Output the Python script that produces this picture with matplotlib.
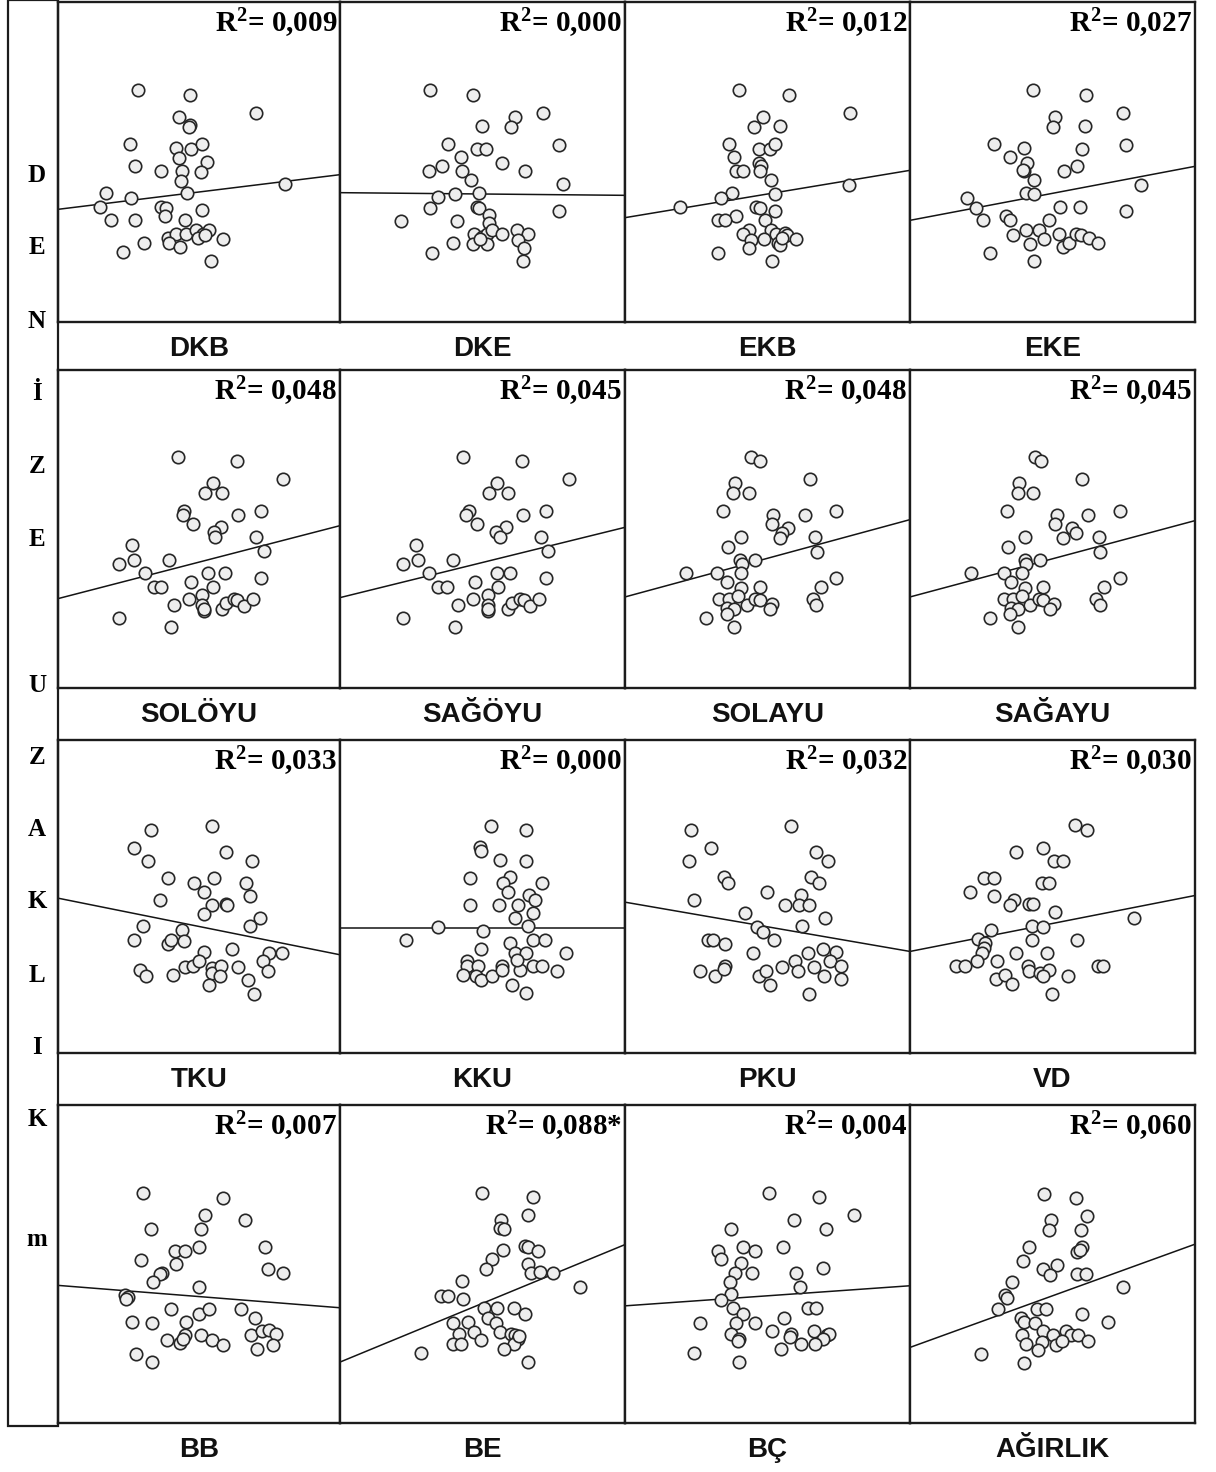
import matplotlib
matplotlib.use("Agg")
import matplotlib.pyplot as plt
from matplotlib.patches import Rectangle

plt.rcParams['mathtext.fontset'] = 'custom'
plt.rcParams['mathtext.rm'] = 'Liberation Serif:bold'
plt.rcParams['mathtext.it'] = 'Liberation Serif:bold'
plt.rcParams['mathtext.bf'] = 'Liberation Serif:bold'

# ---------------------------------------------------------------- data
# Each panel: predictor (x) against DENİZE UZAKLIK (y), in scaled units.
LABELS = ["DKB", "DKE", "EKB", "EKE",
          "SOLÖYU", "SAĞÖYU", "SOLAYU", "SAĞAYU",
          "TKU", "KKU", "PKU", "VD",
          "BB", "BE", "BÇ", "AĞIRLIK"]

R2 = [0.009, 0.000, 0.012, 0.027,
      0.048, 0.045, 0.048, 0.045,
      0.033, 0.000, 0.032, 0.030,
      0.007, 0.088, 0.004, 0.060]
SIGNIFICANT = [False, False, False, False,
               False, False, False, False,
               False, False, False, False,
               False, True, False, False]

DKB_X = [240, 397, 593, 362, 397, 393, 215, 355, 400, 432, 363, 445, 230, 308, 373, 428, 370, 680, 143, 220,
         388, 127, 308, 323, 320, 432, 160, 230, 380, 330, 353, 385, 415, 435, 453, 420, 333, 365, 493, 257,
         195, 458, 440]
DKB_Y = [697, 682, 627, 615, 590, 585, 533, 523, 520, 535, 493, 480, 467, 453, 453, 450, 423, 413, 387, 372,
         387, 345, 345, 343, 317, 335, 305, 305, 305, 253, 265, 265, 277, 265, 277, 253, 237, 225, 250, 237,
         210, 183, 260]

DKE_X = [248, 367, 560, 483, 472, 390, 297, 378, 402, 603, 333, 280, 245, 335, 445, 510, 362, 613, 318, 270,
         382, 248, 378, 382, 410, 168, 322, 603, 410, 370, 390, 405, 420, 445, 487, 518, 490, 367, 405, 310,
         253, 508, 505, 385]
DKE_Y = [695, 682, 627, 615, 585, 587, 533, 520, 520, 532, 495, 467, 453, 453, 478, 452, 425, 413, 385, 375,
         387, 343, 345, 343, 320, 303, 303, 332, 297, 265, 255, 265, 275, 263, 277, 265, 247, 235, 235, 237,
         208, 223, 182, 250]

EKB_X = [313, 450, 618, 378, 355, 427, 285, 367, 397, 413, 300, 368, 375, 305, 323, 370, 400, 615, 293, 265,
         413, 150, 360, 370, 413, 305, 255, 275, 385, 340, 325, 400, 415, 440, 445, 470, 345, 383, 420, 425,
         340, 255, 403, 430]
EKB_Y = [697, 682, 627, 615, 585, 588, 533, 520, 520, 535, 495, 478, 468, 453, 453, 453, 425, 412, 387, 373,
         385, 345, 345, 343, 332, 317, 305, 305, 305, 277, 265, 277, 265, 268, 260, 250, 247, 250, 237, 230,
         223, 208, 182, 253]

EKE_X = [365, 525, 633, 430, 425, 521, 250, 340, 511, 643, 298, 348, 338, 458, 498, 370, 688, 170, 196, 216,
         346, 370, 446, 505, 643, 286, 298, 413, 306, 346, 383, 358, 398, 443, 456, 473, 493, 508, 533, 558,
         238, 368, 336]
EKE_Y = [695, 682, 627, 615, 585, 587, 533, 522, 520, 532, 495, 478, 453, 452, 468, 425, 412, 373, 343, 305,
         387, 385, 345, 345, 332, 317, 305, 305, 262, 277, 277, 235, 250, 265, 225, 237, 265, 260, 253, 237,
         208, 182, 455]

SOLOYU_X = [333, 495, 625, 430, 407, 455, 350, 348, 375, 500, 562, 452, 432, 435, 548, 570, 205, 212, 168, 307,
            242, 265, 287, 368, 415, 462, 430, 562, 398, 362, 400, 405, 322, 455, 465, 487, 497, 515, 542, 168,
            312, 405]
SOLOYU_Y = [690, 677, 623, 612, 582, 582, 530, 518, 490, 518, 530, 480, 465, 450, 450, 410, 427, 383, 370, 383,
            345, 302, 302, 318, 345, 345, 302, 330, 277, 265, 247, 230, 248, 235, 255, 265, 263, 245, 265, 210,
            183, 237]

SAGOYU_X = [338, 501, 631, 433, 411, 463, 355, 348, 378, 506, 568, 458, 431, 440, 553, 575, 210, 216, 173, 311,
            246, 270, 296, 373, 433, 470, 436, 568, 408, 368, 408, 408, 326, 463, 473, 496, 508, 523, 548, 173,
            316, 408]
SAGOYU_Y = [690, 677, 623, 612, 582, 582, 530, 518, 490, 518, 530, 480, 465, 450, 450, 410, 427, 383, 370, 383,
            345, 302, 302, 318, 345, 345, 302, 330, 277, 265, 247, 230, 248, 235, 255, 265, 263, 245, 265, 210,
            183, 237]

SOLAYU_X = [347, 370, 508, 303, 297, 340, 270, 405, 402, 493, 580, 448, 432, 425, 318, 520, 282, 528, 315, 322,
            358, 168, 252, 280, 318, 370, 318, 580, 538, 258, 285, 310, 280, 300, 335, 358, 370, 402, 398, 515,
            525, 222, 298, 280]
SOLAYU_Y = [690, 677, 623, 612, 582, 583, 530, 518, 490, 518, 530, 477, 463, 447, 450, 450, 422, 407, 383, 370,
            383, 345, 345, 317, 343, 303, 300, 330, 302, 265, 265, 275, 240, 235, 247, 265, 263, 250, 237, 265,
            247, 210, 183, 220]

SAGAYU_X = [346, 361, 475, 301, 298, 340, 268, 405, 401, 491, 578, 448, 458, 423, 318, 521, 271, 523, 316, 321,
            358, 168, 258, 278, 308, 368, 316, 578, 536, 258, 283, 308, 278, 298, 331, 356, 368, 398, 386, 513,
            523, 221, 298, 276]
SAGAYU_Y = [690, 677, 623, 612, 582, 583, 530, 518, 490, 518, 530, 477, 463, 448, 450, 450, 422, 407, 383, 370,
            383, 343, 343, 317, 343, 303, 300, 330, 302, 265, 265, 275, 240, 235, 247, 265, 263, 250, 237, 265,
            247, 210, 183, 220]

TKU_X = [280, 462, 230, 505, 272, 583, 332, 408, 468, 565, 440, 577, 307, 462, 505, 508, 438, 607, 577, 255,
         372, 230, 332, 340, 378, 438, 522, 635, 675, 615, 632, 248, 265, 345, 383, 405, 425, 462, 462, 490,
         488, 540, 570, 455, 590]
TKU_Y = [670, 682, 617, 605, 578, 578, 525, 512, 527, 512, 483, 472, 458, 445, 448, 445, 418, 405, 380, 382,
         368, 340, 328, 340, 337, 302, 312, 300, 300, 275, 247, 248, 232, 233, 258, 260, 275, 255, 240, 260,
         230, 258, 220, 205, 178]

KKU_X = [453, 557, 420, 422, 480, 557, 390, 510, 490, 605, 505, 568, 585, 390, 477, 533, 580, 525, 565, 293,
         430, 198, 578, 615, 510, 422, 525, 557, 678, 380, 380, 415, 485, 370, 408, 422, 455, 485, 540, 578,
         605, 650, 515, 558, 530]
KKU_Y = [683, 670, 618, 608, 580, 578, 525, 530, 512, 512, 483, 475, 460, 445, 445, 445, 420, 405, 380, 378,
         367, 340, 340, 340, 330, 312, 300, 300, 300, 275, 260, 262, 260, 233, 230, 218, 232, 250, 250, 260,
         260, 247, 205, 180, 280]

PKU_X = [180, 455, 237, 175, 523, 558, 272, 282, 510, 532, 390, 190, 483, 440, 478, 505, 548, 330, 487, 362,
         380, 410, 228, 242, 275, 350, 503, 542, 580, 467, 562, 205, 248, 275, 272, 367, 388, 398, 432, 475,
         518, 545, 593, 593, 505]
PKU_Y = [670, 683, 617, 578, 603, 578, 528, 510, 528, 512, 485, 458, 475, 445, 443, 445, 405, 420, 380, 378,
         363, 340, 340, 340, 327, 300, 300, 312, 302, 275, 275, 247, 232, 260, 252, 232, 247, 205, 258, 245,
         258, 232, 260, 222, 178]

VD_X = [456, 488, 291, 368, 398, 423, 203, 233, 363, 383, 166, 231, 288, 275, 328, 338, 401, 618, 336, 366,
        223, 188, 208, 336, 461, 203, 198, 291, 378, 186, 241, 126, 153, 326, 328, 358, 383, 368, 236, 263,
        281, 436, 518, 533, 391]
VD_Y = [685, 670, 603, 617, 578, 578, 527, 527, 512, 512, 485, 472, 460, 445, 447, 447, 422, 405, 380, 378,
        368, 342, 330, 340, 340, 315, 300, 300, 300, 275, 275, 260, 260, 260, 245, 240, 248, 230, 222, 235,
        207, 232, 260, 260, 178]

BB_X = [255, 495, 440, 278, 560, 428, 422, 350, 380, 620, 248, 355, 313, 307, 285, 630, 675, 422, 200, 210,
        205, 338, 422, 453, 547, 590, 223, 283, 385, 328, 365, 380, 375, 428, 462, 495, 577, 610, 633, 653,
        643, 595, 235, 283]
BB_Y = [688, 675, 623, 582, 608, 580, 528, 515, 515, 528, 488, 475, 450, 445, 422, 462, 448, 408, 382, 378,
        372, 342, 327, 342, 342, 315, 302, 300, 302, 248, 240, 262, 250, 262, 247, 235, 263, 275, 278, 265,
        235, 222, 208, 182]

BE_X = [390, 532, 518, 443, 442, 452, 450, 510, 517, 545, 420, 403, 518, 527, 550, 587, 335, 662, 278, 298,
        340, 398, 432, 478, 510, 310, 353, 408, 430, 328, 368, 440, 470, 483, 490, 480, 387, 310, 332, 453,
        222, 518, 492]
BE_Y = [687, 675, 620, 607, 583, 580, 517, 530, 527, 515, 490, 460, 475, 447, 450, 447, 423, 407, 380, 380,
        370, 343, 345, 343, 327, 300, 302, 315, 300, 265, 272, 272, 267, 262, 250, 237, 247, 235, 235, 220,
        210, 183, 260]

BC_X = [395, 533, 628, 465, 553, 290, 255, 265, 323, 358, 435, 320, 303, 350, 470, 545, 288, 480, 290, 265,
        298, 503, 525, 205, 325, 305, 358, 438, 405, 290, 313, 455, 520, 555, 560, 545, 428, 483, 523, 190,
        313, 310, 453]
BC_Y = [687, 675, 620, 607, 580, 580, 515, 490, 527, 515, 527, 477, 447, 447, 447, 463, 422, 407, 385, 367,
        343, 343, 343, 300, 327, 300, 300, 315, 275, 265, 250, 265, 275, 262, 265, 250, 222, 235, 235, 210,
        183, 245, 258]

AGIRLIK_X = [403, 500, 535, 425, 418, 515, 358, 518, 503, 512, 340, 445, 400, 422, 505, 530, 308, 643, 288, 292,
             265, 383, 410, 518, 335, 345, 378, 597, 337, 400, 432, 470, 485, 508, 538, 350, 398, 385, 440, 458,
             215, 343]
AGIRLIK_Y = [687, 675, 622, 610, 580, 580, 528, 530, 515, 520, 487, 475, 462, 445, 447, 447, 423, 408, 383, 375,
             343, 343, 343, 327, 315, 303, 300, 302, 265, 275, 265, 277, 265, 265, 247, 237, 243, 220, 235, 245,
             208, 180]

# fitted line: predicted y at the lower and upper end of each x range
FIT_ENDS = [(338, 442), (388, 380), (313, 455), (305, 467),
            (267, 485), (270, 480), (272, 503), (272, 500),
            (465, 295), (375, 375), (453, 305), (305, 473),
            (412, 345), (182, 533), (350, 410), (227, 537)]

# axis ranges (x max, y max) for each panel
RANGES = [(845, 960), (785, 960), (783, 960), (848, 960),
          (782, 950), (786, 950), (782, 950), (786, 950),
          (848, 940), (855, 940), (782, 940), (786, 940),
          (845, 952), (785, 950), (783, 950), (860, 955)]

SERIES = [(DKB_X, DKB_Y), (DKE_X, DKE_Y), (EKB_X, EKB_Y), (EKE_X, EKE_Y),
          (SOLOYU_X, SOLOYU_Y), (SAGOYU_X, SAGOYU_Y), (SOLAYU_X, SOLAYU_Y), (SAGAYU_X, SAGAYU_Y),
          (TKU_X, TKU_Y), (KKU_X, KKU_Y), (PKU_X, PKU_Y), (VD_X, VD_Y),
          (BB_X, BB_Y), (BE_X, BE_Y), (BC_X, BC_Y), (AGIRLIK_X, AGIRLIK_Y)]

Y_TITLE = "DENİZE UZAKLIK m"

# ---------------------------------------------------------------- layout
FIG_W, FIG_H = 1216, 1472
COL_EDGES = [58, 340, 625, 910, 1195]
ROW_SPANS = [(2, 322), (370, 688), (740, 1053), (1105, 1423)]
LABEL_ROWS = [349, 715, 1080, 1450]
LETTER_ROWS = [175, 248, 322, 393, 467, 539, None, 686, 757, 830, 902, 975, 1048, 1120, None, 1240]

EDGE = "#1c1c1c"

fig = plt.figure(figsize=(FIG_W / 100, FIG_H / 100), dpi=100)


def frac_box(x0, y0, x1, y1):
    return [x0 / FIG_W, 1 - y1 / FIG_H, (x1 - x0) / FIG_W, (y1 - y0) / FIG_H]


def fx(px):
    return px / FIG_W


def fy(py):
    return 1 - py / FIG_H


# left frame holding the vertical y title
fig.add_artist(Rectangle((fx(8), fy(1426)), fx(58) - fx(8), fy(0) - fy(1426),
                         transform=fig.transFigure, fill=False, edgecolor=EDGE,
                         linewidth=1.6, zorder=5))

letters = [c for c in Y_TITLE]
for ch, py in zip(letters, LETTER_ROWS):
    if py is None or ch == " ":
        continue
    fig.text(fx(37), fy(py), ch, ha="center", va="center",
             fontfamily="Liberation Serif", fontweight="bold", fontsize=18, color="black")

for i, (name, (xs, ys), fit, (xmax, ymax), r2, sig) in enumerate(
        zip(LABELS, SERIES, FIT_ENDS, RANGES, R2, SIGNIFICANT)):
    row, col = divmod(i, 4)
    top, bottom = ROW_SPANS[row]
    left, right = COL_EDGES[col], COL_EDGES[col + 1]
    ax = fig.add_axes(frac_box(left, top, right, bottom))
    ax.plot([0, xmax], list(fit), color="#141414", linewidth=1.1, zorder=2)
    ax.scatter(xs, ys, s=80, facecolor="#eeeeee", edgecolor="#262626",
               linewidth=1.2, zorder=3)
    ax.set_xlim(0, xmax)
    ax.set_ylim(0, ymax)
    ax.set_xticks([])
    ax.set_yticks([])
    for sp in ax.spines.values():
        sp.set_linewidth(1.7)
        sp.set_color(EDGE)

    value = f"{r2:.3f}".replace(".", ",") + ("*" if sig else "")
    ax.annotate("R$^{2}$= " + value, xy=(1, 1), xycoords="axes fraction",
                xytext=(-3, -5), textcoords="offset pixels", ha="right", va="top",
                fontfamily="Liberation Serif", fontweight="bold", fontsize=21, color="black")

    fig.text(fx((left + right) / 2), fy(LABEL_ROWS[row]), name, ha="center", va="center",
             fontfamily="Liberation Sans", fontweight="bold", fontsize=20, color="#111111")

fig.savefig("out.png", dpi=100, facecolor="white")
